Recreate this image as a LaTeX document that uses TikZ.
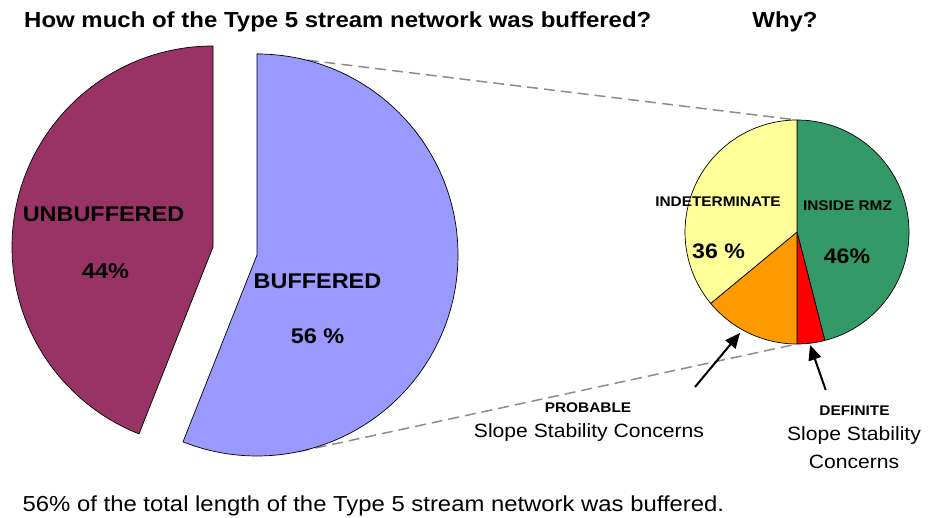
\documentclass[tikz,border=0pt]{standalone}
\usepackage{fontspec}
\setmainfont{Liberation Sans}[FakeStretch=1.1]
\usetikzlibrary{arrows.meta}
\definecolor{plumc}{HTML}{993366}
\definecolor{bluec}{HTML}{9999FF}
\definecolor{greenc}{HTML}{339966}
\definecolor{yellowc}{HTML}{FFFF99}
\definecolor{orangec}{HTML}{FF9900}
\definecolor{redc}{HTML}{FF0000}
\definecolor{dashc}{HTML}{8C8C8C}
\begin{document}
\begin{tikzpicture}[x=1pt,y=1pt,
  slice/.style={draw=black,line width=0.7pt,line join=round},
  ttl/.style={font=\bfseries\fontsize{21.8}{26}\selectfont,inner sep=0},
  big/.style={font=\bfseries\fontsize{21.3}{26}\selectfont,inner sep=0,anchor=base},
  small/.style={font=\bfseries\fontsize{14}{17}\selectfont,inner sep=0,anchor=base},
  note/.style={font=\fontsize{19.2}{23}\selectfont,inner sep=0,anchor=base},
  zoomline/.style={draw=dashc,line width=1.5pt,dash pattern=on 11pt off 6pt},
  pointer/.style={draw=black,line width=2pt,-{Triangle[length=15pt,width=13pt]}}]
\useasboundingbox (0,0) rectangle (929,517);

% centres
\coordinate (uc) at (213,270);
\coordinate (bc) at (257,262);
\coordinate (sc) at (797,285);
\coordinate (btop) at ([shift={(90:201)}]bc);
\coordinate (bbot) at ([shift={(-78:201)}]bc);
\coordinate (stop) at ([shift={(90:112)}]sc);
\coordinate (sbot) at ([shift={(-90:112)}]sc);

% zoom lines
\draw[zoomline] (btop) -- (stop);
\draw[zoomline] (bbot) -- (sbot);

% big pie
\filldraw[slice,fill=plumc] (uc) -- ++(90:201) arc[start angle=90,end angle=248.4,radius=201] -- cycle;
\filldraw[slice,fill=bluec] (bc) -- ++(90:201) arc[start angle=90,end angle=-111.6,radius=201] -- cycle;

% small pie
\filldraw[slice,fill=greenc] (sc) -- ++(90:112) arc[start angle=90,end angle=-75.6,radius=112] -- cycle;
\filldraw[slice,fill=redc] (sc) -- ++(-75.6:112) arc[start angle=-75.6,end angle=-90,radius=112] -- cycle;
\filldraw[slice,fill=orangec] (sc) -- ++(-90:112) arc[start angle=-90,end angle=-140.4,radius=112] -- cycle;
\filldraw[slice,fill=yellowc] (sc) -- ++(-140.4:112) arc[start angle=-140.4,end angle=-270,radius=112] -- cycle;

% titles
\node[ttl,anchor=base west] (title) at (24,489.2) {How much of the Type 5 stream network was buffered?};
\node[ttl,anchor=base] (why) at (785,489.2) {Why?};
\node[font=\fontsize{21.7}{26}\selectfont,inner sep=0,anchor=base west] (caption) at (22.5,5.4) {56\% of the total length of the Type 5 stream network was buffered.};

% big pie labels
\node[big] (unb) at (103.5,295.4) {UNBUFFERED};
\node[big] (unbp) at (105.5,238.4) {44\%};
\node[big] (buf) at (317.5,228.4) {BUFFERED};
\node[big] (bufp) at (317.5,173.4) {56 \%};

% small pie labels
\node[small] (ind) at (718,310.5) {INDETERMINATE};
\node[small] (rmz) at (847.5,306) {INSIDE RMZ};
\node[font=\bfseries\fontsize{21}{25}\selectfont,inner sep=0,anchor=base] (indp) at (718.5,258) {36 \%};
\node[font=\bfseries\fontsize{21}{25}\selectfont,inner sep=0,anchor=base] (rmzp) at (847,253) {46\%};

% concerns
\node[small] (prob) at (588,104.5) {PROBABLE};
\node[note] (probtxt) at (589,79.2) {Slope Stability Concerns};
\node[small] (def) at (854.5,102) {DEFINITE};
\node[note] (deftxt1) at (854,76.2) {Slope Stability};
\node[note] (deftxt2) at (854,49) {Concerns};

% pointers
\coordinate (pt1) at (695,130);
\coordinate (ph1) at (740,184);
\coordinate (pt2) at (825.7,127);
\coordinate (ph2) at (810,172);
\draw[pointer] (pt1) -- (ph1);
\draw[pointer] (pt2) -- (ph2);
\end{tikzpicture}
\end{document}
